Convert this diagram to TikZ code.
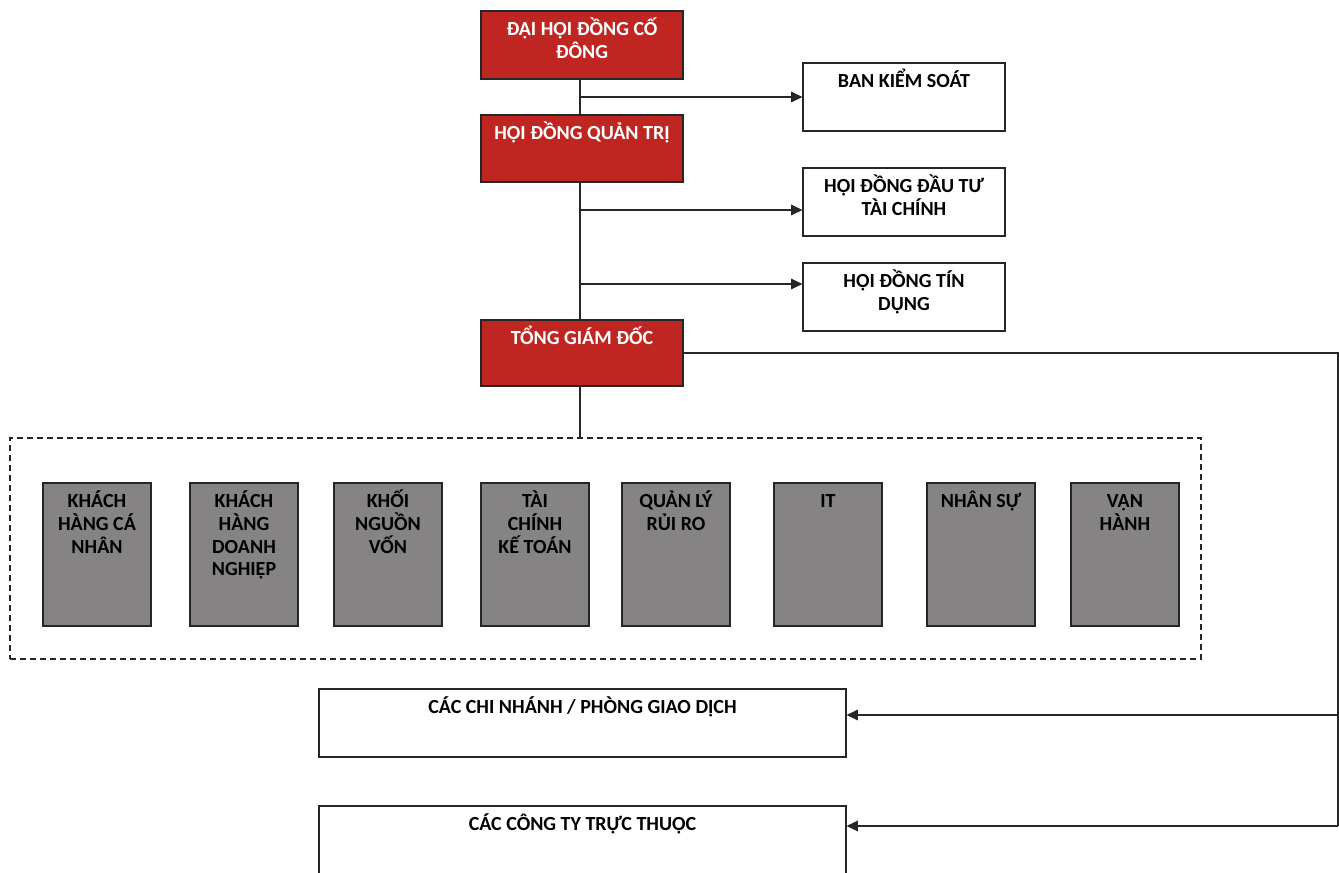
\documentclass[tikz,border=0pt]{standalone}
\usepackage{fontspec}
\setmainfont{Carlito}
\usetikzlibrary{fit,arrows.meta}
\definecolor{dhred}{RGB}{192,38,33}
\definecolor{dhgray}{RGB}{133,131,131}
\newcommand{\tl}{\rule{0pt}{14pt}}
\begin{document}
\begin{tikzpicture}[x=0.75pt,y=-0.75pt,
  basebox/.style={draw=black!85, line width=0.9pt, inner sep=0pt},
  redbox/.style={basebox, fill=dhred},
  whitebox/.style={basebox, fill=white},
  graybox/.style={basebox, fill=dhgray},
  lbl/.style={font=\bfseries\fontsize{15}{17}\selectfont, align=center, inner sep=0pt, anchor=north, yshift=-4.75pt, text=black},
  redlbl/.style={lbl, text=white},
  conn/.style={line width=0.9pt, draw=black!85},
  arr/.style={conn, -{Triangle[length=8.5pt,width=8pt]}},
  grp/.style={draw=black!85, line width=0.8pt, dash pattern=on 4.5pt off 3pt, inner sep=0pt}
]
\useasboundingbox (0,0) rectangle (1339,873);

% top red boxes
\node[redbox, fit={(481,11) (683,79)}] (dhd) {};
\node[redlbl] (dhdt) at (dhd.north) {\tl ĐẠI HỘI ĐỒNG CỐ\\ĐÔNG};
\node[redbox, fit={(481,115) (683,182)}] (hdqt) {};
\node[redlbl] (hdqtt) at (hdqt.north) {\tl HỘI ĐỒNG QUẢN TRỊ};
\node[redbox, fit={(481,320) (683,386)}] (tgd) {};
\node[redlbl] (tgdt) at (tgd.north) {\tl TỔNG GIÁM ĐỐC};

% right white boxes
\node[whitebox, fit={(803,63) (1005,131)}] (bks) {};
\node[lbl] (bkst) at (bks.north) {\tl BAN KIỂM SOÁT};
\node[whitebox, fit={(803,168) (1005,236)}] (hddt) {};
\node[lbl] (hddtt) at (hddt.north) {\tl HỘI ĐỒNG ĐẦU TƯ\\TÀI CHÍNH};
\node[whitebox, fit={(803,263) (1005,331)}] (hdtd) {};
\node[lbl] (hdtdt) at (hdtd.north) {\tl HỘI ĐỒNG TÍN\\DỤNG};

% group of departments
\node[grp, fit={(10,438) (1201,659)}] (grp) {};
\node[graybox, fit={(43,483) (151,626)}] (g1) {};
\node[lbl] (g1t) at (g1.north) {\tl KHÁCH\\HÀNG CÁ\\NHÂN};
\node[graybox, fit={(190,483) (298,626)}] (g2) {};
\node[lbl] (g2t) at (g2.north) {\tl KHÁCH\\HÀNG\\DOANH\\NGHIỆP};
\node[graybox, fit={(334,483) (442,626)}] (g3) {};
\node[lbl] (g3t) at (g3.north) {\tl KHỐI\\NGUỒN\\VỐN};
\node[graybox, fit={(481,483) (589,626)}] (g4) {};
\node[lbl] (g4t) at (g4.north) {\tl TÀI\\CHÍNH\\KẾ TOÁN};
\node[graybox, fit={(622,483) (730,626)}] (g5) {};
\node[lbl] (g5t) at (g5.north) {\tl QUẢN LÝ\\RỦI RO};
\node[graybox, fit={(774,483) (882,626)}] (g6) {};
\node[lbl] (g6t) at (g6.north) {\tl IT};
\node[graybox, fit={(927,483) (1035,626)}] (g7) {};
\node[lbl] (g7t) at (g7.north) {\tl NHÂN SỰ};
\node[graybox, fit={(1071,483) (1179,626)}] (g8) {};
\node[lbl] (g8t) at (g8.north) {\tl VẬN\\HÀNH};

% bottom boxes
\node[whitebox, fit={(319,689) (846,757)}] (cn) {};
\node[lbl] (cnt) at (cn.north) {\tl CÁC CHI NHÁNH / PHÒNG GIAO DỊCH};
\node[whitebox, fit={(319,806) (846,900)}] (ct) {};
\node[lbl] (ctt) at (ct.north) {\tl CÁC CÔNG TY TRỰC THUỘC};

% connectors
\coordinate (b1) at (580,97);
\coordinate (b2) at (580,210);
\coordinate (b3) at (580,284);
\coordinate (r1) at (1338,715);
\coordinate (r2) at (1338,826);
\draw[conn] (dhd.south -| b1) -- (hdqt.north -| b1);
\draw[conn] (hdqt.south -| b1) -- (tgd.north -| b1);
\draw[conn] (tgd.south -| b1) -- (grp.north -| b1);
\draw[arr] (b1) -- (b1 -| bks.west);
\draw[arr] (b2) -- (b2 -| hddt.west);
\draw[arr] (b3) -- (b3 -| hdtd.west);
\draw[conn] (tgd.east) -| (r2);
\draw[arr] (r1) -- (r1 -| cn.east);
\draw[arr] (r2) -- (r2 -| ct.east);
\end{tikzpicture}
\end{document}
